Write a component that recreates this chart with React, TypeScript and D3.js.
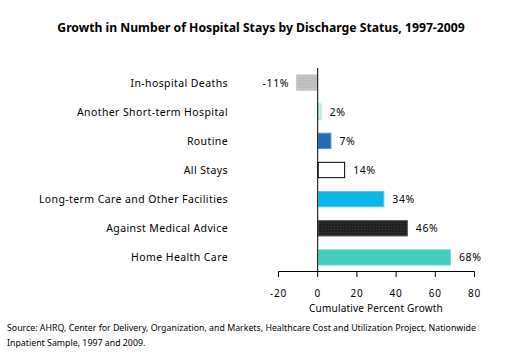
import React from "react";
import * as d3 from "d3";

const categories = [
  "In-hospital Deaths",
  "Another Short-term Hospital",
  "Routine",
  "All Stays",
  "Long-term Care and Other Facilities",
  "Against Medical Advice",
  "Home Health Care",
];
const values = [-11, 2, 7, 14, 34, 46, 68];
const valueLabels = ["-11%", "2%", "7%", "14%", "34%", "46%", "68%"];
const fills = ["#c0c0c0", "#d4f3e8", "#1f6db6", "#ffffff", "#0cb7e8", "#262626", "#40cebf"];
const strokes = ["#c8c8c8", "#a9dccb", "#5b8fcc", "#000000", "#58c6ea", "#555555", "#7ad9cf"];
const xTicks = [-20, 0, 20, 40, 60, 80];
const title = "Growth in Number of Hospital Stays by Discharge Status, 1997-2009";
const xTitle = "Cumulative Percent Growth";
const sourceLines = [
  "Source: AHRQ, Center for Delivery, Organization, and Markets, Healthcare Cost and Utilization Project, Nationwide",
  "Inpatient Sample, 1997 and 2009.",
];

const FONT = "'Noto Sans', 'Open Sans', sans-serif";

export default function App() {
  const W = 518, H = 357;
  const x = d3.scaleLinear().domain([-20, 80]).range([278.5, 474.5]);
  const y = d3.scaleBand<string>().domain(categories).range([68, 272]).paddingInner(0.44).paddingOuter(0.22);
  const x0 = x(0);
  return (
    <svg width={W} height={H} style={{ position: "absolute", left: 0, top: 0, background: "#fff" }} fontFamily={FONT}>
      <defs>
        <pattern id="dots" width="3" height="3" patternUnits="userSpaceOnUse">
          <rect width="3" height="3" fill="#bdbdbd" />
          <rect x="1" y="1" width="1" height="1" fill="#d0d0d0" />
        </pattern>
        <pattern id="dark" width="3" height="3" patternUnits="userSpaceOnUse">
          <rect width="3" height="3" fill="#222" />
          <rect x="1" y="1" width="1" height="1" fill="#3a3a3a" />
        </pattern>
      </defs>
      <text x={261} y={32} textAnchor="middle" fontWeight="bold" fontSize={12.2} fill="#000">{title}</text>
      {categories.map((c, i) => {
        const v = values[i];
        const bx = Math.min(x(v), x0);
        const bw = Math.abs(x(v) - x0);
        const by = y(c)!;
        const bh = y.bandwidth();
        const fill = i === 0 ? "url(#dots)" : i === 5 ? "url(#dark)" : fills[i];
        return (
          <g key={c}>
            <text x={228} y={by + bh / 2 + 4} textAnchor="end" fontSize={10.5} letterSpacing={0.4} fill="#000">{c}</text>
            <rect x={bx + 0.5} y={by + 0.5} width={Math.max(bw - 1, 0)} height={bh - 1} fill={fill} stroke={strokes[i]} strokeWidth={1} />
            <text x={v < 0 ? bx - 7 : x(v) + 8} y={by + bh / 2 + 4} textAnchor={v < 0 ? "end" : "start"} fontSize={10.5} letterSpacing={0.6} fill="#000">{valueLabels[i]}</text>
          </g>
        );
      })}
      <line x1={x0} x2={x0} y1={68} y2={272} stroke="#000" strokeWidth={1} />
      <line x1={x(-20)} x2={x(80)} y1={271.5} y2={271.5} stroke="#000" strokeWidth={1} />
      {xTicks.map((t) => (
        <g key={t}>
          <line x1={x(t)} x2={x(t)} y1={271.5} y2={277} stroke="#000" strokeWidth={1} />
          <text x={x(t)} y={297} textAnchor="middle" fontSize={10} fill="#000" letterSpacing={0.8}>{t}</text>
        </g>
      ))}
      <text x={376} y={312} textAnchor="middle" fontSize={10} letterSpacing={0.2} fill="#000">{xTitle}</text>
      {sourceLines.map((l, i) => (
        <text key={i} x={7} y={331 + i * 15} fontSize={8.8} fill="#000">{l}</text>
      ))}
    </svg>
  );
}
